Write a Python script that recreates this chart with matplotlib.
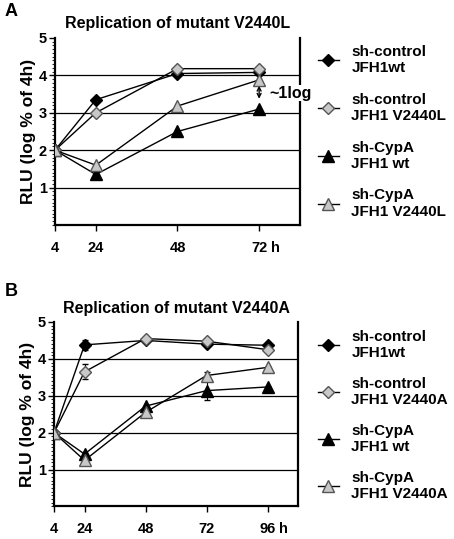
import numpy as np
import matplotlib
matplotlib.use('Agg')
import matplotlib.pyplot as plt
from matplotlib.ticker import MultipleLocator

plt.rcParams['font.family'] = ['Liberation Sans', 'DejaVu Sans']
plt.rcParams['font.weight'] = 'bold'

# time points (h) and their positions on the category-like axis
hours_a = ['4', '24', '48', '72']
pos_a = [0, 0.5, 1.5, 2.5]
hours_b = ['4', '24', '48', '72', '96']
pos_b = [0, 0.5, 1.5, 2.5, 3.5]

# panel A values (log % of 4h)
a_ctrl_wt = [2.0, 3.35, 4.05, 4.08]
a_ctrl_mut = [2.0, 3.0, 4.18, 4.18]
a_cypa_wt = [2.0, 1.35, 2.5, 3.1]
a_cypa_mut = [2.0, 1.6, 3.18, 3.88]

# panel B values and error bars
b_ctrl_wt = [2.0, 4.38, 4.5, 4.4, 4.37]
b_ctrl_wt_err = [0, 0.13, 0, 0, 0]
b_ctrl_mut = [2.0, 3.65, 4.55, 4.48, 4.25]
b_ctrl_mut_err = [0, 0.2, 0, 0, 0]
b_cypa_wt = [2.0, 1.42, 2.72, 3.14, 3.24]
b_cypa_wt_err = [0, 0, 0, 0.26, 0]
b_cypa_mut = [2.0, 1.25, 2.55, 3.55, 3.77]
b_cypa_mut_err = [0, 0, 0, 0.1, 0]

labels_a = ['sh-control\nJFH1wt', 'sh-control\nJFH1 V2440L',
            'sh-CypA\nJFH1 wt', 'sh-CypA\nJFH1 V2440L']
labels_b = ['sh-control\nJFH1wt', 'sh-control\nJFH1 V2440A',
            'sh-CypA\nJFH1 wt', 'sh-CypA\nJFH1 V2440A']

grey = '#c8c8c8'
styles = [dict(marker='D', mfc='black', mec='black', ms=6.5),
          dict(marker='D', mfc=grey, mec='#555555', ms=6.5),
          dict(marker='^', mfc='black', mec='black', ms=8),
          dict(marker='^', mfc=grey, mec='#555555', ms=8)]

fig = plt.figure(figsize=(4.54, 5.39), dpi=100)


def setup(ax, pos, hours, xmax):
    ax.set_xlim(0, xmax)
    ax.set_ylim(0, 5)
    ax.set_xticks(pos)
    ax.set_xticklabels(hours, fontsize=10.5, fontweight='bold')
    ax.set_yticks([1, 2, 3, 4, 5])
    ax.set_yticklabels(['1', '2', '3', '4', '5'], fontsize=10.5, fontweight='bold')
    ax.yaxis.set_minor_locator(MultipleLocator(0.1))
    ax.tick_params(axis='y', which='major', length=4, width=1, pad=2)
    ax.tick_params(axis='y', which='minor', length=2, width=0.6)
    ax.tick_params(axis='x', length=4, width=1, pad=7.5)
    # the unit after the last time point
    ax.annotate('h', xy=(pos[-1], 0), xycoords=('data', 'axes fraction'),
                xytext=(8.6, -11.5), textcoords='offset points',
                ha='left', va='top', fontsize=10.5, fontweight='bold')
    for y in [1, 2, 3, 4]:
        ax.axhline(y, color='black', lw=0.9, zorder=1)
    ax.spines['top'].set_visible(False)
    for s in ['left', 'bottom', 'right']:
        ax.spines[s].set_linewidth(1.6)
    ax.set_ylabel('RLU (log % of 4h)', fontsize=12.5, fontweight='bold', labelpad=2)


# ---- panel A
axA = fig.add_axes([0.1211, 0.5826, 0.5396, 0.3469])
setup(axA, pos_a, hours_a, 3)
series_a = [a_ctrl_wt, a_ctrl_mut, a_cypa_wt, a_cypa_mut]
for order in [3, 2, 1, 0]:
    axA.plot(pos_a, series_a[order], color='black', lw=1, zorder=3 + order,
             label=labels_a[order], **styles[order])
axA.set_title('Replication of mutant V2440L', fontsize=11.5, fontweight='bold', pad=7)
axA.annotate('', xy=(2.5, 3.3), xytext=(2.5, 3.8),
             arrowprops=dict(arrowstyle='<->', lw=1, color='black', mutation_scale=7))
axA.text(2.62, 3.52, '~1log', fontsize=11.5, fontweight='bold', va='center',
         zorder=10, clip_on=False,
         bbox=dict(facecolor='white', edgecolor='none', pad=0.5))
fig.text(0.01, 0.978, 'A', fontsize=13, fontweight='bold', va='center')

hA, lA = axA.get_legend_handles_labels()
fig.legend(hA[::-1], lA[::-1], loc='upper left', bbox_to_anchor=(0.70, 0.9165),
           frameon=False, fontsize=11, handlelength=1.4, labelspacing=1.15,
           handletextpad=0.8, borderaxespad=0, borderpad=0)

# ---- panel B
axB = fig.add_axes([0.119, 0.0603, 0.5374, 0.3423])
setup(axB, pos_b, hours_b, 4)
series_b = [b_ctrl_wt, b_ctrl_mut, b_cypa_wt, b_cypa_mut]
errs_b = [b_ctrl_wt_err, b_ctrl_mut_err, b_cypa_wt_err, b_cypa_mut_err]
for order in [3, 2, 1, 0]:
    axB.errorbar(pos_b, series_b[order], yerr=errs_b[order], fmt='none',
                 ecolor='black', elinewidth=0.8, capsize=2.5, zorder=2 + order)
    axB.plot(pos_b, series_b[order], color='black', lw=1, zorder=3 + order,
             label=labels_b[order], **styles[order])
axB.set_title('Replication of mutant V2440A', fontsize=11.5, fontweight='bold', pad=6.5)
fig.text(0.01, 0.46, 'B', fontsize=13, fontweight='bold', va='center')

hB, lB = axB.get_legend_handles_labels()
fig.legend(hB[::-1], lB[::-1], loc='upper left', bbox_to_anchor=(0.70, 0.3878),
           frameon=False, fontsize=11, handlelength=1.4, labelspacing=1.1,
           handletextpad=0.8, borderaxespad=0, borderpad=0)

plt.savefig('out.png', dpi=100)
